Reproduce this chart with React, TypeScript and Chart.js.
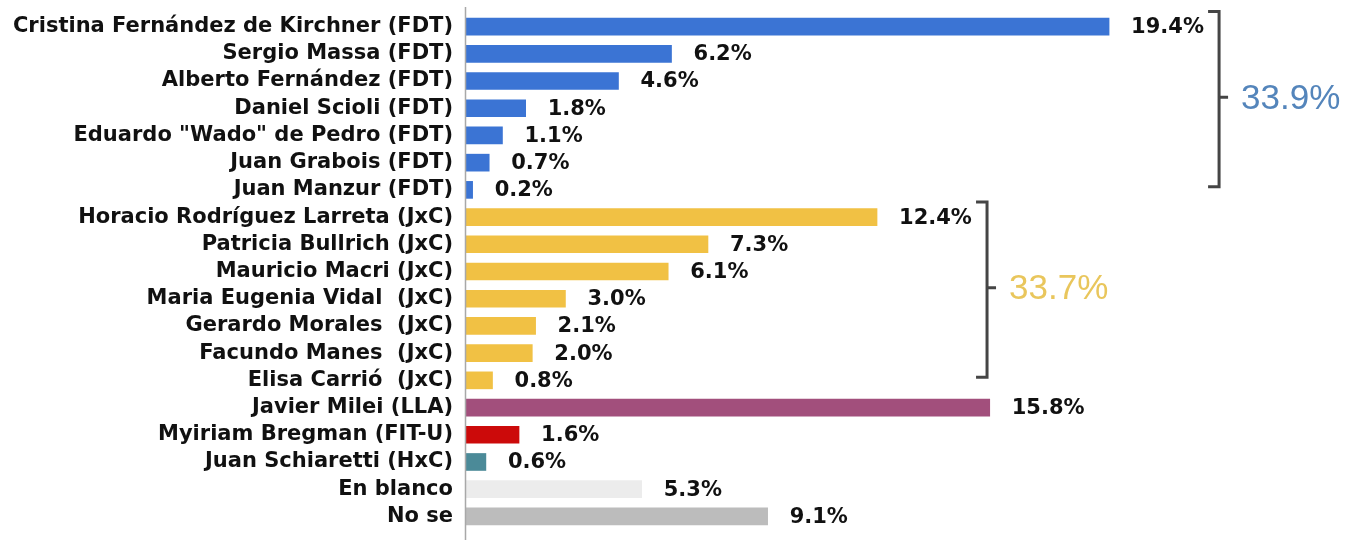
import { useEffect, useRef } from "react";
import { Chart, registerables } from "chart.js";

Chart.register(...registerables);

const categories = [
  "Cristina Fernández de Kirchner (FDT)",
  "Sergio Massa (FDT)",
  "Alberto Fernández (FDT)",
  "Daniel Scioli (FDT)",
  'Eduardo "Wado" de Pedro (FDT)',
  "Juan Grabois (FDT)",
  "Juan Manzur (FDT)",
  "Horacio Rodríguez Larreta (JxC)",
  "Patricia Bullrich (JxC)",
  "Mauricio Macri (JxC)",
  "Maria Eugenia Vidal  (JxC)",
  "Gerardo Morales  (JxC)",
  "Facundo Manes  (JxC)",
  "Elisa Carrió  (JxC)",
  "Javier Milei (LLA)",
  "Myiriam Bregman (FIT-U)",
  "Juan Schiaretti (HxC)",
  "En blanco",
  "No se",
];

const values = [
  19.4, 6.2, 4.6, 1.8, 1.1, 0.7, 0.2, 12.4, 7.3, 6.1, 3.0, 2.1, 2.0, 0.8, 15.8,
  1.6, 0.6, 5.3, 9.1,
];

const groups = [
  "FDT", "FDT", "FDT", "FDT", "FDT", "FDT", "FDT",
  "JxC", "JxC", "JxC", "JxC", "JxC", "JxC", "JxC",
  "LLA", "FIT-U", "HxC", "blanco", "nose",
];

const groupColors: Record<string, string> = {
  FDT: "#3b74d4",
  JxC: "#f1c144",
  LLA: "#a24f7c",
  "FIT-U": "#cc0a0a",
  HxC: "#4b8a98",
  blanco: "#ececec",
  nose: "#bcbcbc",
};

const totals = [
  { label: "33.9%", from: 0, to: 6, color: "#5485bb" },
  { label: "33.7%", from: 7, to: 13, color: "#e9c65c" },
];

const overlay = {
  id: "overlay",
  afterDatasetsDraw(chart: any) {
    const ctx = chart.ctx as CanvasRenderingContext2D;
    const meta = chart.getDatasetMeta(0);
    const area = chart.chartArea;
    ctx.save();
    // axis line
    ctx.strokeStyle = "#a8a8a8";
    ctx.lineWidth = 1.5;
    ctx.beginPath();
    ctx.moveTo(area.left - 0.5, area.top - 6);
    ctx.lineTo(area.left - 0.5, 540);
    ctx.stroke();

    // value labels
    ctx.fillStyle = "#111";
    ctx.font = "bold 21px 'DejaVu Sans'";
    ctx.textAlign = "left";
    ctx.textBaseline = "middle";
    meta.data.forEach((bar: any, i: number) => {
      ctx.fillText(values[i].toFixed(1) + "%", bar.x + 22, bar.y + 1);
    });

    // brackets
    totals.forEach((t) => {
      let maxEnd = 0;
      for (let i = t.from; i <= t.to; i++) maxEnd = Math.max(maxEnd, meta.data[i].x);
      const bx = maxEnd + 110;
      const top = meta.data[t.from].y - 15;
      const bottom = meta.data[t.to].y - 3;
      const mid = (top + bottom) / 2 - 2;
      ctx.strokeStyle = "#454545";
      ctx.lineWidth = 3;
      ctx.beginPath();
      ctx.moveTo(bx - 11, top);
      ctx.lineTo(bx, top);
      ctx.lineTo(bx, bottom);
      ctx.lineTo(bx - 11, bottom);
      ctx.moveTo(bx, mid);
      ctx.lineTo(bx + 9, mid);
      ctx.stroke();
      ctx.fillStyle = t.color;
      ctx.font = "35px 'Liberation Sans'";
      ctx.fillText(t.label, bx + 22, mid + 2);
    });
    ctx.restore();
  },
};

export default function App() {
  const ref = useRef<HTMLCanvasElement>(null);
  useEffect(() => {
    document.body.style.margin = "0";
    const chart = new Chart(ref.current!, {
      type: "bar",
      data: {
        labels: categories,
        datasets: [
          {
            data: values,
            backgroundColor: groups.map((g) => groupColors[g]),
            barThickness: 17,
          },
        ],
      },
      options: {
        indexAxis: "y",
        animation: false,
        responsive: false,
        layout: { padding: { top: 13, bottom: 11, left: 0, right: 0 } },
        plugins: { legend: { display: false }, tooltip: { enabled: false } },
        scales: {
          x: { display: false, min: 0, max: 27 },
          y: {
            afterFit: (s: any) => {
              s.width = 466;
              s.paddingTop = 0;
              s.paddingBottom = 0;
            },
            grid: { display: false, drawTicks: false },
            border: { display: false },
            ticks: {
              autoSkip: false,
              padding: 13,
              color: "#111",
              font: { family: "'DejaVu Sans'", weight: "bold", size: 21 },
            },
          },
        },
      },
      plugins: [overlay],
    } as any);
    return () => chart.destroy();
  }, []);
  return (
    <div style={{ width: 1361, height: 541, background: "#fff" }}>
      <canvas ref={ref} width={1361} height={541} style={{ display: "block" }} />
    </div>
  );
}
